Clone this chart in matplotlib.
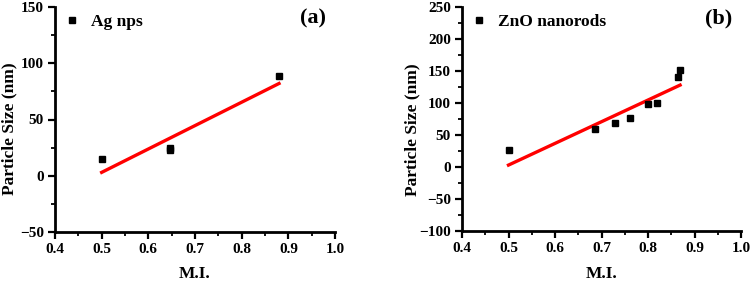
import matplotlib
matplotlib.use('Agg')
import matplotlib.pyplot as plt
from matplotlib.ticker import MultipleLocator

# --- DATA ---
ag_mi = [0.5, 0.647, 0.647, 0.88]
ag_size = [15, 23, 25, 89]
ag_fit_x = [0.5, 0.88]
ag_fit_y = [3, 82]

zno_mi = [0.5, 0.687, 0.728, 0.762, 0.8, 0.82, 0.865, 0.869]
zno_size = [26, 59, 68, 77, 99, 100, 141, 151]
zno_fit_x = [0.5, 0.869]
zno_fit_y = [3, 128]

plt.rcParams['font.family'] = ['Liberation Serif', 'DejaVu Serif']
plt.rcParams['font.weight'] = 'bold'

fig = plt.figure(figsize=(7.51, 2.85), dpi=100)
ax1 = fig.add_axes([55 / 751, 1 - 232 / 285, 280 / 751, 225 / 285])
ax2 = fig.add_axes([462 / 751, 1 - 231 / 285, 279 / 751, 224 / 285])


def style_axis(ax, ylim, tag, ylab_xy, xlab_y):
    ax.set_xlim(0.4, 1.0)
    ax.set_ylim(*ylim)
    ax.xaxis.set_major_locator(MultipleLocator(0.1))
    ax.xaxis.set_minor_locator(MultipleLocator(0.05))
    ax.yaxis.set_major_locator(MultipleLocator(50))
    ax.yaxis.set_minor_locator(MultipleLocator(25))
    for s in ['top', 'right']:
        ax.spines[s].set_visible(False)
    for s in ['left', 'bottom']:
        ax.spines[s].set_linewidth(2)
    ax.tick_params(which='major', direction='out', length=5, width=1.6, labelsize=11, pad=3)
    ax.tick_params(which='minor', direction='out', length=3, width=1.3)
    for t in ax.get_xticklabels() + ax.get_yticklabels():
        t.set_fontweight('bold')
    ax.set_xlabel('M.I.', fontsize=12.5, fontweight='bold')
    ax.set_ylabel('Particle Size (nm)', fontsize=12.5, fontweight='bold')
    ax.yaxis.set_label_coords(*ylab_xy)
    ax.xaxis.set_label_coords(0.5, xlab_y)
    ax.text(0.92, 0.95, tag, transform=ax.transAxes, fontsize=16,
            fontweight='bold', ha='center', va='center')
    ax.legend(loc='upper left', frameon=False, handletextpad=0.5,
              handlelength=1.2, borderaxespad=0.1, borderpad=0.3,
              prop={'weight': 'bold', 'size': 12.5})


ax1.plot(ag_fit_x, ag_fit_y, color='#ff0000', lw=2.4, zorder=2)
ax1.plot(ag_mi, ag_size, 's', color='black', ms=4, ls='none', label='Ag nps', zorder=3)
style_axis(ax1, (-50, 150), '(a)', (-0.136, 0.458), -0.151)

ax2.plot(zno_fit_x, zno_fit_y, color='#ff0000', lw=2.4, zorder=2)
ax2.plot(zno_mi, zno_size, 's', color='black', ms=4, ls='none', label='ZnO nanorods', zorder=3)
style_axis(ax2, (-100, 250), '(b)', (-0.15, 0.453), -0.156)

fig.savefig('out.png', dpi=100)
